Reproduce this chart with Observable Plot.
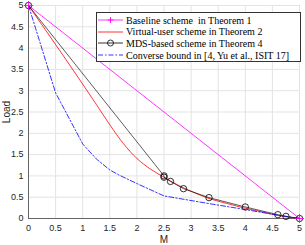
<!DOCTYPE html>
<html>
<head>
<meta charset="utf-8">
<script src="https://cdn.jsdelivr.net/npm/d3@7"></script>
<script src="https://cdn.jsdelivr.net/npm/@observablehq/plot@0.6"></script>
<style>
  html, body { margin: 0; padding: 0; background: #fff; }
  #wrap { position: relative; width: 305px; height: 245px; }
  #legend { position: absolute; left: 96px; top: 12px; width: 205px; height: 50px;
    box-sizing: border-box; border: 1px solid #333; background: #fff;
    font-family: "Liberation Serif", "DejaVu Serif", serif; font-size: 10px; color: #000; }
  .row { position: absolute; left: 0; height: 12px; display: flex; align-items: center; }
  .row svg { margin-left: 1px; }
  .row span { margin-left: 3px; white-space: pre; }
</style>
</head>
<body>
<div id="wrap"></div>
<script>
// ---- data ----
const ticks = [0, 0.5, 1, 1.5, 2, 2.5, 3, 3.5, 4, 4.5, 5];
const xLabel = "M";
const yLabel = "Load";
const seriesNames = [
  "Baseline scheme  in Theorem 1",
  "Virtual-user scheme in Theorem 2",
  "MDS-based scheme in Theorem 4",
  "Converse bound in [4, Yu et al., ISIT 17]"
];
const baselineM = [0, 5];
const baselineLoad = [5, 0];
const virtualM = [0, 1.25, 1.5, 1.75, 2, 2.25, 2.5, 2.75, 3, 3.33, 3.67, 4, 4.33, 4.6, 4.8, 5];
const virtualLoad = [5, 2.68, 2.2, 1.76, 1.41, 1.16, 0.97, 0.79, 0.64, 0.47, 0.35, 0.24, 0.15, 0.07, 0.03, 0];
const mdsM = [0, 2.5, 2.5, 2.62, 2.86, 3.33, 4, 4.6, 4.75, 5];
const mdsLoad = [5, 1.0, 0.97, 0.87, 0.70, 0.49, 0.27, 0.09, 0.05, 0];
const converseM = [0, 0.5, 1, 1.25, 1.5, 1.67, 2, 2.5, 3.33, 4, 4.5, 5];
const converseLoad = [5, 2.95, 1.75, 1.4, 1.14, 1.02, 0.82, 0.53, 0.35, 0.21, 0.1, 0];

const colors = ["#ff00ff", "#ff0000", "#000000", "#0000ff"];
const dashes = [null, null, null, "5,2,1.5,2"];
const markers = ["plus", null, "circle", null];

const toRows = (xs, ys) => xs.map((m, i) => ({M: m, Load: ys[i]}));
const baseline = toRows(baselineM, baselineLoad);
const virtual = toRows(virtualM, virtualLoad);
const mds = toRows(mdsM, mdsLoad);
const converse = toRows(converseM, converseLoad);

const fmt = d => String(d);

const chart = Plot.plot({
  width: 305, height: 245,
  marginLeft: 28, marginRight: 6, marginTop: 5, marginBottom: 27,
  style: {fontFamily: "'Liberation Sans', Arial, sans-serif", fontSize: "9px", color: "#262626", background: "#fff"},
  x: {domain: [0, 5]},
  y: {domain: [0, 5]},
  marks: [
    Plot.gridX(ticks, {stroke: "#e3e3e3", strokeOpacity: 1}),
    Plot.gridY(ticks, {stroke: "#e3e3e3", strokeOpacity: 1}),
    Plot.axisX(ticks, {tickSize: 0, tickPadding: 6, tickFormat: fmt, label: null, fontSize: 9}),
    Plot.axisY(ticks, {tickSize: 0, tickPadding: 5, tickFormat: fmt, label: null, fontSize: 9}),
    Plot.text([xLabel], {frameAnchor: "bottom", dy: 21.5, lineAnchor: "middle", textAnchor: "middle", fontSize: 10, fill: "#262626"}),
    Plot.text([yLabel], {frameAnchor: "left", dx: -22, rotate: -90, lineAnchor: "middle", textAnchor: "middle", fontSize: 10, fill: "#262626"}),
    Plot.ruleX([0], {stroke: "#444", strokeWidth: 0.8}),
    Plot.ruleY([0], {stroke: "#444", strokeWidth: 0.8}),
    Plot.line(baseline, {x: "M", y: "Load", stroke: colors[0], strokeWidth: 0.8}),
    Plot.line(virtual, {x: "M", y: "Load", stroke: colors[1], strokeWidth: 0.8, curve: "monotone-x"}),
    Plot.line(mds, {x: "M", y: "Load", stroke: colors[2], strokeWidth: 0.8, strokeOpacity: 0.8}),
    Plot.dot(mds, {x: "M", y: "Load", stroke: colors[2], r: 3.2, strokeWidth: 0.8, fill: "none"}),
    Plot.line(converse, {x: "M", y: "Load", stroke: colors[3], strokeWidth: 0.8, strokeDasharray: dashes[3]}),
    Plot.dot(baseline, {x: "M", y: "Load", stroke: colors[0], symbol: "plus", r: 3, strokeWidth: 0.9})
  ]
});

const wrap = document.getElementById("wrap");
wrap.appendChild(chart);

// legend (inside the axes, like the reference)
const legend = document.createElement("div");
legend.id = "legend";
seriesNames.forEach((name, i) => {
  const row = document.createElement("div");
  row.className = "row";
  row.style.top = (1 + i * 11.7) + "px";
  const ns = "http://www.w3.org/2000/svg";
  const svg = document.createElementNS(ns, "svg");
  svg.setAttribute("width", 25); svg.setAttribute("height", 12);
  const ln = document.createElementNS(ns, "line");
  ln.setAttribute("x1", 0); ln.setAttribute("x2", 25); ln.setAttribute("y1", 6); ln.setAttribute("y2", 6);
  ln.setAttribute("stroke", colors[i]); ln.setAttribute("stroke-width", 0.8);
  if (dashes[i]) ln.setAttribute("stroke-dasharray", dashes[i]);
  svg.appendChild(ln);
  if (markers[i] === "circle") {
    const c = document.createElementNS(ns, "circle");
    c.setAttribute("cx", 12.5); c.setAttribute("cy", 6); c.setAttribute("r", 3);
    c.setAttribute("fill", "none"); c.setAttribute("stroke", colors[i]); c.setAttribute("stroke-width", 0.8);
    svg.appendChild(c);
  } else if (markers[i] === "plus") {
    const p = document.createElementNS(ns, "path");
    p.setAttribute("d", "M12.5,3V9M9.5,6H15.5");
    p.setAttribute("stroke", colors[i]); p.setAttribute("stroke-width", 0.9);
    svg.appendChild(p);
  }
  row.appendChild(svg);
  const t = document.createElement("span");
  t.textContent = name;
  row.appendChild(t);
  legend.appendChild(row);
});
wrap.appendChild(legend);
</script>
</body>
</html>
